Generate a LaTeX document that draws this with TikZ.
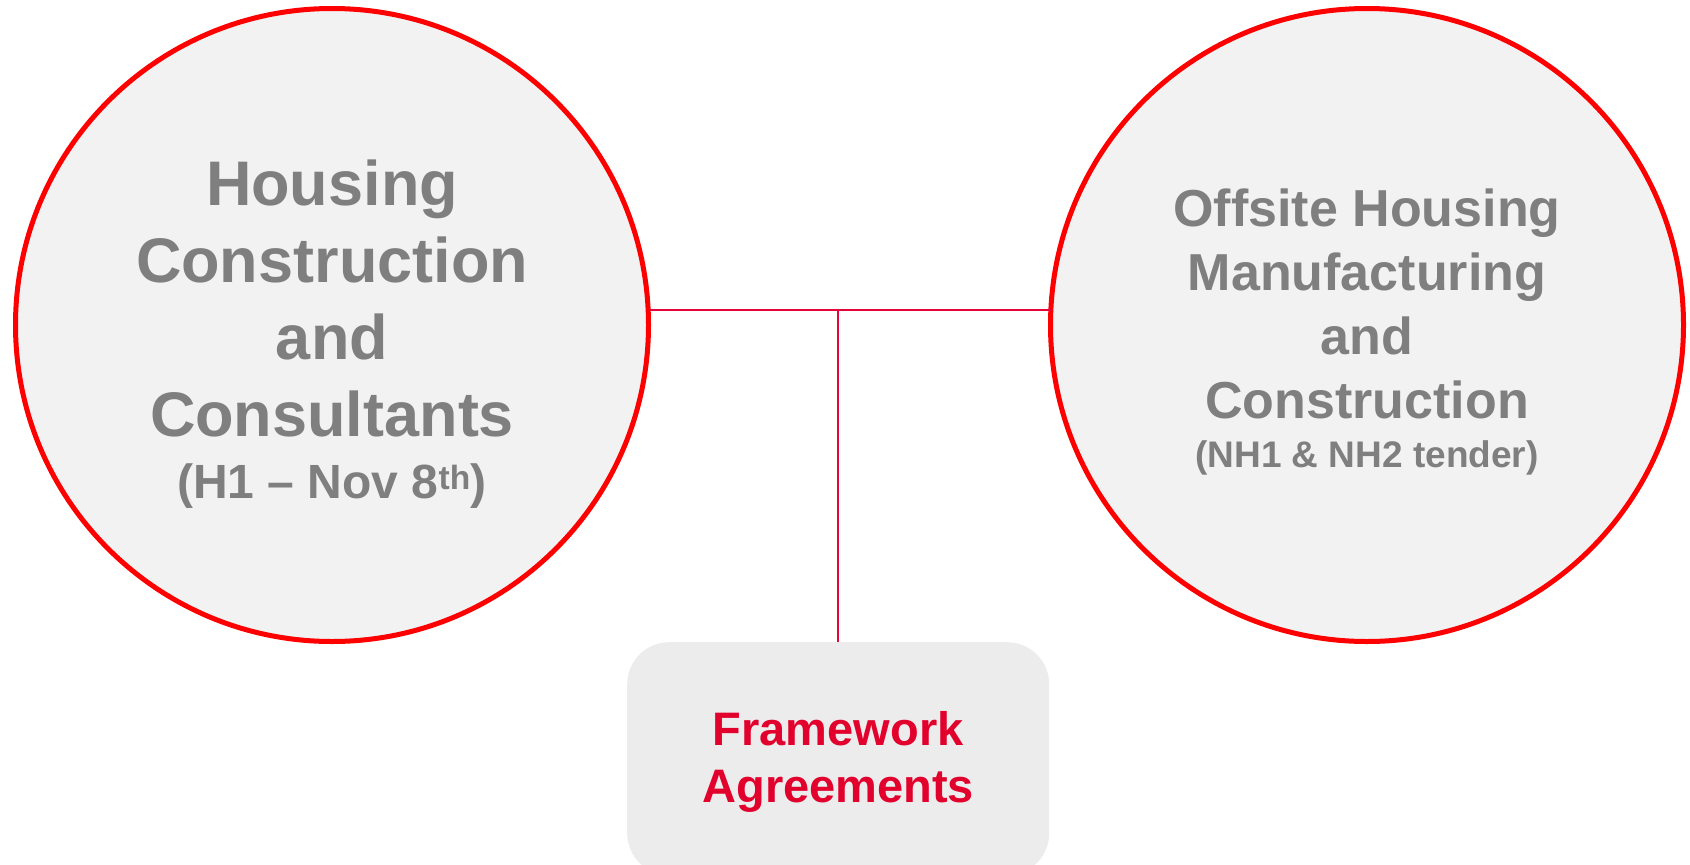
\documentclass[tikz,border=0pt]{standalone}
\usepackage{fontspec}
\setmainfont{Liberation Sans}
\usetikzlibrary{positioning,calc}

\definecolor{ringred}{RGB}{255,0,0}
\definecolor{hubfill}{RGB}{242,242,242}
\definecolor{dealfill}{RGB}{236,236,236}
\definecolor{txtgray}{RGB}{127,127,127}
\definecolor{linkred}{RGB}{232,4,58}
\definecolor{dealred}{RGB}{226,0,44}

\begin{document}
\begin{tikzpicture}[x=1pt,y=-1pt,
         hub/.style = {circle, draw=ringred, line width=5pt, fill=hubfill,
            minimum size=633pt, inner sep=0pt, outer sep=0pt},
         hubtext/.style = {text=txtgray, align=center, inner sep=0pt},
         deal/.style = {rectangle, fill=dealfill, rounded corners=42pt,
            minimum width=422pt, minimum height=233pt, inner sep=0pt,
            text=dealred, align=center,
            font=\fontsize{47}{57}\selectfont\bfseries},
         link/.style = {draw=linkred, line width=2.6pt}
]
         \useasboundingbox (0,0) rectangle (1690,865);

         % the two circles
         \node[hub]                    (hcc) at (332,325) {};
         \node[hub, right=402pt of hcc] (ohm) {};

         \node[hubtext, anchor=north, font=\fontsize{63}{77}\selectfont\bfseries]
            (hcclbl) at ($(hcc.center)+(0,-165)$)
            {Housing\\Construction\\and\\Consultants\\[-15pt]
            {\fontsize{48}{58}\selectfont (H1 -- Nov 8\textsuperscript{th})}};

         \node[hubtext, anchor=north, font=\fontsize{52}{64}\selectfont\bfseries]
            (ohmlbl) at ($(ohm.center)+(0,-136)$)
            {Offsite Housing\\Manufacturing\\and\\Construction\\[-15pt]
            {\fontsize{37}{45}\selectfont (NH1 \& NH2 tender)}};

         % framework box
         \node[deal, below right=0.5pt and 295pt of hcc.south, anchor=north west]
            (fw) {\rule{0pt}{40pt}Framework\\Agreements};

         % connectors
         \coordinate (joint) at ($(hcc.center)+(0,-15)$);
         \draw[link] (joint -| hcc.east) -- (joint -| ohm.west);
         \draw[link, line width=2.2pt] (fw.north) -- (fw.north |- joint);

\end{tikzpicture}
\end{document}
